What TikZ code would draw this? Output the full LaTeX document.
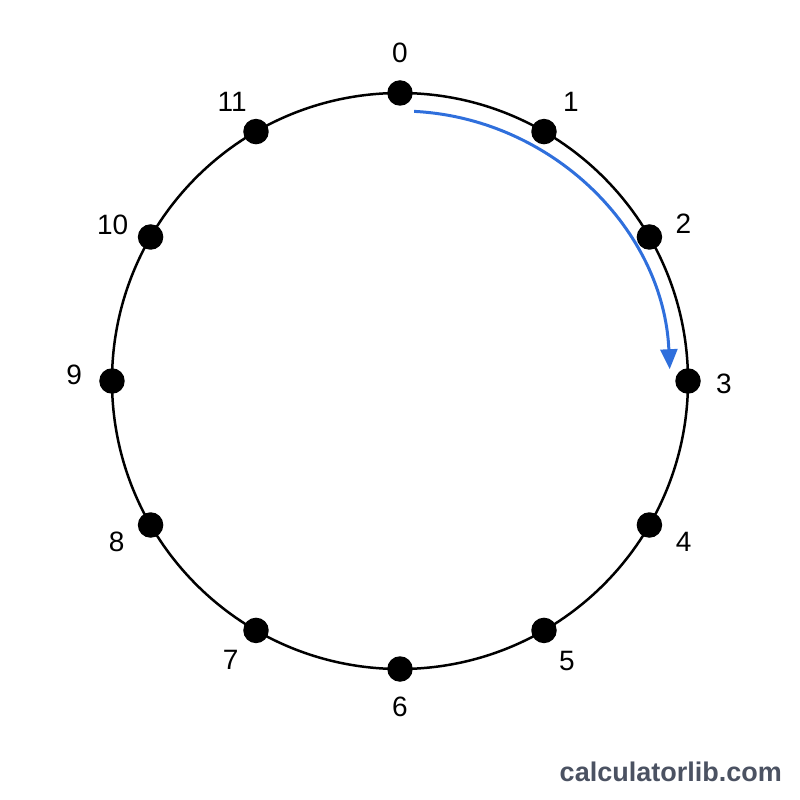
\documentclass[tikz,border=0pt]{standalone}
\usepackage{fontspec}
\setmainfont{Liberation Sans}
\usetikzlibrary{arrows.meta}
\definecolor{arcblue}{RGB}{47,111,220}
\definecolor{markgray}{RGB}{75,82,98}
\tikzset{
  dot/.style={circle,fill=black,inner sep=0pt,minimum size=25.5pt},
  num/.style={font=\fontsize{28}{28}\selectfont,inner sep=0pt},
  ring/.style={line width=2.5pt},
  turn/.style={arcblue,line width=3pt,-{Triangle[length=20pt,width=17pt]}}
}
\begin{document}
\begin{tikzpicture}[x=1pt,y=1pt]
\useasboundingbox (-400,-419) rectangle (400,381);

%Shape: Circle
\draw [ring] (0,0) circle [radius=288];

%Shape: Dots
\node [dot] (d0) at (90:288) {};
\node [dot] (d1) at (60:288) {};
\node [dot] (d2) at (30:288) {};
\node [dot] (d3) at (0:288) {};
\node [dot] (d4) at (-30:288) {};
\node [dot] (d5) at (-60:288) {};
\node [dot] (d6) at (-90:288) {};
\node [dot] (d7) at (-120:288) {};
\node [dot] (d8) at (-150:288) {};
\node [dot] (d9) at (180:288) {};
\node [dot] (d10) at (150:288) {};
\node [dot] (d11) at (120:288) {};

%Curve Lines
\coordinate (a0) at (87:270);
\draw [turn] (a0) arc [start angle=87, end angle=2.5, radius=270];

% Text Node
\node [num] (l0) at (90:328) {0};
% Text Node
\node [num] (l1) at (58.5:327) {1};
% Text Node
\node [num] (l2) at (29:324) {2};
% Text Node
\node [num] (l3) at (-0.5:324) {3};
% Text Node
\node [num] (l4) at (-29.5:326) {4};
% Text Node
\node [num] (l5) at (-59.2:326) {5};
% Text Node
\node [num] (l6) at (-90:326) {6};
% Text Node
\node [num] (l7) at (-121.3:326) {7};
% Text Node
\node [num] (l8) at (-150.4:326) {8};
% Text Node
\node [num] (l9) at (179:326) {9};
% Text Node
\node [num] (l10) at (151.5:327) {10};
% Text Node
\node [num] (l11) at (121:326) {11};

% Text Node
\node [anchor=base east,inner sep=0pt,text=markgray,font=\bfseries\fontsize{27}{27}\selectfont] (site) at (382,-400) {calculatorlib.com};

\end{tikzpicture}
\end{document}
